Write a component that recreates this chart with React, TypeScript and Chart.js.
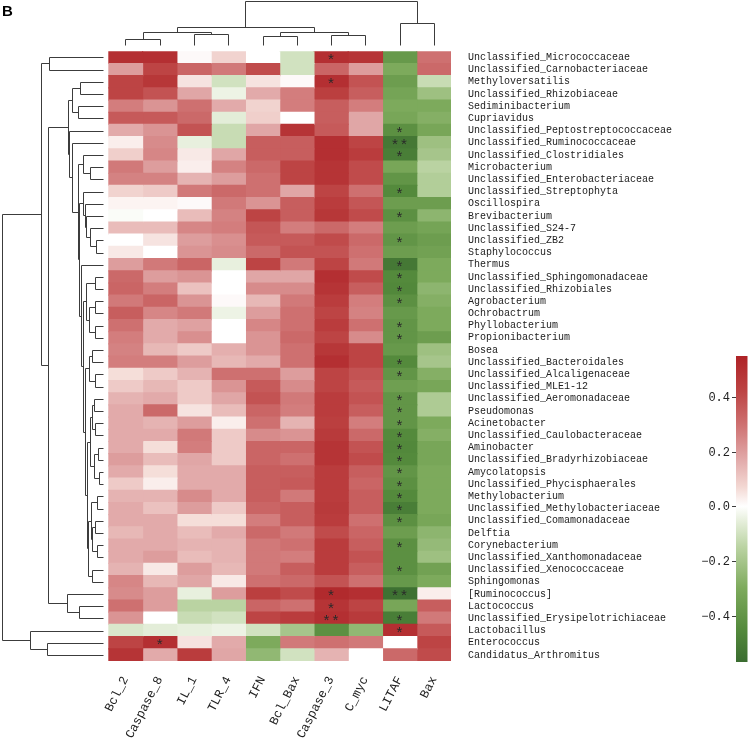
import React, { useEffect, useRef } from "react";
import { Chart, registerables } from "chart.js";

Chart.register(...registerables);

// ---------- data ----------
const ROWS = [
  "Unclassified_Micrococcaceae", "Unclassified_Carnobacteriaceae", "Methyloversatilis",
  "Unclassified_Rhizobiaceae", "Sediminibacterium", "Cupriavidus",
  "Unclassified_Peptostreptococcaceae", "Unclassified_Ruminococcaceae", "Unclassified_Clostridiales",
  "Microbacterium", "Unclassified_Enterobacteriaceae", "Unclassified_Streptophyta",
  "Oscillospira", "Brevibacterium", "Unclassified_S24-7", "Unclassified_ZB2", "Staphylococcus",
  "Thermus", "Unclassified_Sphingomonadaceae", "Unclassified_Rhizobiales", "Agrobacterium",
  "Ochrobactrum", "Phyllobacterium", "Propionibacterium", "Bosea", "Unclassified_Bacteroidales",
  "Unclassified_Alcaligenaceae", "Unclassified_MLE1-12", "Unclassified_Aeromonadaceae",
  "Pseudomonas", "Acinetobacter", "Unclassified_Caulobacteraceae", "Aminobacter",
  "Unclassified_Bradyrhizobiaceae", "Amycolatopsis", "Unclassified_Phycisphaerales",
  "Methylobacterium", "Unclassified_Methylobacteriaceae", "Unclassified_Comamonadaceae",
  "Delftia", "Corynebacterium", "Unclassified_Xanthomonadaceae", "Unclassified_Xenococcaceae",
  "Sphingomonas", "[Ruminococcus]", "Lactococcus", "Unclassified_Erysipelotrichiaceae",
  "Lactobacillus", "Enterococcus", "Candidatus_Arthromitus",
];

const COLS = ["Bcl_2", "Caspase_8", "IL_1", "TLR_4", "IFN", "Bcl_Bax", "Caspase_3", "C_myc", "LITAF", "Bax"];

const BCL_2 = [0.5, 0.2, 0.42, 0.42, 0.27, 0.36, 0.17, 0.03, 0.09, 0.28,
  0.26, 0.08, 0.02, -0.01, 0.13, 0.0, 0.04, 0.2, 0.32, 0.33,
  0.28, 0.35, 0.3, 0.27, 0.26, 0.27, 0.06, 0.1, 0.15, 0.17,
  0.17, 0.17, 0.17, 0.2, 0.17, 0.1, 0.15, 0.17, 0.17, 0.14,
  0.17, 0.17, 0.15, 0.25, 0.24, 0.3, 0.22, -0.08, 0.42, 0.48];
const CASPASE_8 = [0.5, 0.42, 0.47, 0.38, 0.22, 0.36, 0.22, 0.24, 0.25, 0.2,
  0.26, 0.1, 0.02, 0.0, 0.13, 0.05, 0.0, 0.28, 0.2, 0.27,
  0.33, 0.25, 0.17, 0.17, 0.14, 0.27, 0.1, 0.14, 0.17, 0.32,
  0.15, 0.17, 0.06, 0.13, 0.06, 0.03, 0.15, 0.12, 0.17, 0.17,
  0.17, 0.2, 0.04, 0.14, 0.2, 0.2, 0.0, -0.06, 0.5, 0.17];
const IL_1 = [0.01, 0.33, 0.05, 0.18, 0.3, 0.32, 0.38, -0.05, 0.04, 0.03,
  0.15, 0.28, 0.01, 0.13, 0.25, 0.2, 0.22, 0.33, 0.22, 0.12,
  0.22, 0.28, 0.19, 0.23, 0.1, 0.2, 0.15, 0.1, 0.1, 0.05,
  0.2, 0.28, 0.27, 0.18, 0.17, 0.17, 0.24, 0.2, 0.06, 0.13,
  0.15, 0.13, 0.2, 0.18, -0.05, -0.15, -0.12, -0.05, 0.05, 0.45];
const TLR_4 = [0.08, 0.28, -0.1, -0.04, 0.17, -0.06, -0.12, -0.12, 0.18, 0.26,
  0.2, 0.32, 0.28, 0.26, 0.27, 0.23, 0.24, -0.05, 0.0, 0.0,
  0.01, -0.04, 0.0, 0.0, 0.16, 0.14, 0.3, 0.22, 0.18, 0.13,
  0.03, 0.1, 0.1, 0.1, 0.17, 0.17, 0.17, 0.1, 0.06, 0.17,
  0.15, 0.15, 0.14, 0.04, 0.2, -0.15, -0.1, -0.04, 0.17, 0.18];
const IFN = [0.0, 0.4, 0.05, 0.17, 0.08, 0.09, 0.18, 0.35, 0.35, 0.32,
  0.3, 0.3, 0.22, 0.42, 0.37, 0.36, 0.32, 0.42, 0.18, 0.24,
  0.14, 0.2, 0.25, 0.22, 0.22, 0.17, 0.3, 0.36, 0.38, 0.33,
  0.3, 0.24, 0.33, 0.33, 0.35, 0.35, 0.35, 0.33, 0.27, 0.32,
  0.28, 0.28, 0.28, 0.3, 0.44, 0.33, 0.42, -0.1, -0.3, -0.25];
const BCL_BAX = [-0.1, -0.1, 0.01, 0.27, 0.27, 0.0, 0.48, 0.35, 0.35, 0.42,
  0.42, 0.18, 0.35, 0.35, 0.27, 0.36, 0.38, 0.28, 0.18, 0.24,
  0.28, 0.3, 0.3, 0.32, 0.3, 0.3, 0.2, 0.24, 0.28, 0.27,
  0.15, 0.22, 0.33, 0.3, 0.35, 0.36, 0.28, 0.35, 0.35, 0.28,
  0.3, 0.27, 0.35, 0.32, 0.4, 0.3, 0.45, -0.2, 0.28, -0.1];
const CASPASE_3 = [0.5, 0.33, 0.5, 0.44, 0.35, 0.35, 0.36, 0.5, 0.5, 0.48,
  0.48, 0.42, 0.45, 0.47, 0.32, 0.4, 0.38, 0.42, 0.5, 0.48,
  0.45, 0.42, 0.45, 0.42, 0.47, 0.5, 0.42, 0.42, 0.45, 0.45,
  0.44, 0.46, 0.48, 0.48, 0.45, 0.45, 0.45, 0.46, 0.45, 0.4,
  0.45, 0.45, 0.45, 0.38, 0.52, 0.48, 0.5, -0.42, 0.3, 0.15];
const C_MYC = [0.48, 0.2, 0.38, 0.35, 0.27, 0.18, 0.18, 0.42, 0.45, 0.4,
  0.4, 0.3, 0.37, 0.4, 0.27, 0.32, 0.3, 0.28, 0.4, 0.35,
  0.27, 0.26, 0.3, 0.24, 0.42, 0.42, 0.38, 0.36, 0.38, 0.35,
  0.27, 0.32, 0.38, 0.4, 0.35, 0.33, 0.35, 0.35, 0.3, 0.33,
  0.35, 0.38, 0.35, 0.3, 0.5, 0.42, 0.46, -0.25, 0.28, 0.0];
const LITAF = [-0.38, -0.3, -0.36, -0.33, -0.3, -0.32, -0.42, -0.52, -0.5, -0.32,
  -0.4, -0.45, -0.36, -0.42, -0.36, -0.4, -0.36, -0.52, -0.45, -0.46,
  -0.42, -0.38, -0.4, -0.4, -0.38, -0.45, -0.4, -0.35, -0.4, -0.4,
  -0.4, -0.45, -0.46, -0.45, -0.4, -0.42, -0.45, -0.5, -0.42, -0.36,
  -0.42, -0.42, -0.42, -0.38, -0.55, -0.32, -0.5, 0.5, 0.0, 0.32];
const BAX = [0.3, 0.32, -0.12, -0.22, -0.3, -0.28, -0.32, -0.22, -0.2, -0.15,
  -0.17, -0.17, -0.36, -0.26, -0.33, -0.36, -0.34, -0.3, -0.3, -0.26,
  -0.28, -0.3, -0.3, -0.36, -0.22, -0.2, -0.28, -0.32, -0.18, -0.18,
  -0.3, -0.28, -0.32, -0.32, -0.3, -0.3, -0.3, -0.3, -0.32, -0.26,
  -0.24, -0.22, -0.34, -0.3, 0.03, 0.35, 0.28, 0.36, 0.42, 0.4];

const COLUMN_VALUES = [BCL_2, CASPASE_8, IL_1, TLR_4, IFN, BCL_BAX, CASPASE_3, C_MYC, LITAF, BAX];

// [row, column, mark]
const STARS: [number, number, string][] = [
  [0, 6, "*"], [2, 6, "*"], [6, 8, "*"], [7, 8, "**"], [8, 8, "*"], [11, 8, "*"], [13, 8, "*"],
  [15, 8, "*"], [17, 8, "*"], [18, 8, "*"], [19, 8, "*"], [20, 8, "*"], [22, 8, "*"], [23, 8, "*"],
  [25, 8, "*"], [26, 8, "*"], [28, 8, "*"], [29, 8, "*"], [30, 8, "*"], [31, 8, "*"], [32, 8, "*"],
  [33, 8, "*"], [34, 8, "*"], [35, 8, "*"], [36, 8, "*"], [37, 8, "*"], [38, 8, "*"], [40, 8, "*"],
  [42, 8, "*"], [44, 6, "*"], [44, 8, "**"], [45, 6, "*"], [46, 6, "**"], [46, 8, "*"], [47, 8, "*"],
  [48, 1, "*"],
];

const COLORBAR_TICKS = [0.4, 0.2, 0.0, -0.2, -0.4];
const VMIN = -0.57;
const VMAX = 0.55;
const COLOR_STOPS: [number, number[]][] = [
  [-0.57, [58, 108, 48]],
  [-0.45, [84, 138, 60]],
  [-0.3, [125, 170, 92]],
  [-0.15, [186, 211, 162]],
  [-0.05, [232, 240, 222]],
  [0.0, [255, 255, 255]],
  [0.07, [243, 216, 211]],
  [0.17, [226, 170, 170]],
  [0.3, [206, 112, 112]],
  [0.42, [189, 68, 68]],
  [0.55, [174, 34, 38]],
];

// dendrograms: [height, left, right]; leaves are indices
const T_TOP = [0.345, [0.311, [0.228, 2, 3], [0.248, 4, 5]],
  [0.335, 6, [0.31, 7, [0.248,
    [0.196, 8, [0.129, 9, 10]],
    [0.238,
      [0.196, 11, [0.179, 12, [0.169, 13, [0.136, 14, [0.07, 15, 16]]]]],
      [0.221, 17, [0.199,
        [0.169, [0.084, 18, 19], [0.139, [0.086, 20, 21], [0.079, 22, 23]]],
        [0.179,
          [0.139, [0.112, 24, 25], [0.079, 26, 27]],
          [0.159,
            [0.134, [0.109, [0.096, 28, 29], [0.079, 30, 31]], [0.089, [0.053, 32, 33], [0.047, 34, 35]]],
            [0.149, [0.124, [0.063, 36, 37], [0.112, [0.079, 38, 39], [0.063, 40, 41]]], [0.112, 42, 43]]]]]]]]]]];
const T_LOWER = [0.36, 44, [0.238, 45, 46]];
const T_BOTTOM = [0.725, 47, [0.56, 48, 49]];
const ROW_TREE = [1.0, [0.619, [0.533, 0, 1], [0.543, T_TOP, T_LOWER]], T_BOTTOM];
const COL_TREE = [1.0, [0.418, [0.305, [0.152, 0, 1], [0.25, 2, 3]], [0.311, [0.22, 4, 5], [0.243, 6, 7]]], [0.493, 8, 9]];

// ---------- helpers ----------
const MONO = "'Liberation Mono', 'DejaVu Sans Mono', monospace";

function valueToRgb(v: number): number[] {
  if (v <= COLOR_STOPS[0][0]) return COLOR_STOPS[0][1];
  for (let i = 1; i < COLOR_STOPS.length; i++) {
    const [v1, c1] = COLOR_STOPS[i];
    if (v <= v1) {
      const [v0, c0] = COLOR_STOPS[i - 1];
      const t = (v - v0) / (v1 - v0);
      return c0.map((c, k) => Math.round(c + (c1[k] - c) * t));
    }
  }
  return COLOR_STOPS[COLOR_STOPS.length - 1][1];
}
const valueToColor = (v: number) => {
  const c = valueToRgb(v);
  return `rgb(${c[0]},${c[1]},${c[2]})`;
};

function drawTree(ctx: CanvasRenderingContext2D, node: any, leafPos: (i: number) => number,
  hToPix: (h: number) => number, vertical: boolean): { pos: number; h: number } {
  if (typeof node === "number") return { pos: leafPos(node), h: 0 };
  const a = drawTree(ctx, node[1], leafPos, hToPix, vertical);
  const b = drawTree(ctx, node[2], leafPos, hToPix, vertical);
  const p = Math.round(hToPix(node[0])) + 0.5;
  const pa = Math.round(hToPix(a.h)) + 0.5;
  const pb = Math.round(hToPix(b.h)) + 0.5;
  const ya = Math.round(a.pos) + 0.5;
  const yb = Math.round(b.pos) + 0.5;
  ctx.beginPath();
  if (!vertical) {
    ctx.moveTo(pa, ya); ctx.lineTo(p, ya);
    ctx.moveTo(pb, yb); ctx.lineTo(p, yb);
    ctx.moveTo(p, ya); ctx.lineTo(p, yb);
  } else {
    ctx.moveTo(ya, pa); ctx.lineTo(ya, p);
    ctx.moveTo(yb, pb); ctx.lineTo(yb, p);
    ctx.moveTo(ya, p); ctx.lineTo(yb, p);
  }
  ctx.stroke();
  return { pos: (a.pos + b.pos) / 2, h: node[0] };
}

const decorPlugin = {
  id: "decor",
  afterDatasetsDraw(chart: any) {
    const ctx: CanvasRenderingContext2D = chart.ctx;
    const xs = chart.scales.x;
    const ys = chart.scales.y;
    ctx.save();
    ctx.fillStyle = "#2a2a2a";
    ctx.font = `15px ${MONO}`;
    ctx.textAlign = "center";
    ctx.textBaseline = "middle";
    STARS.forEach(([r, c, m]) => {
      ctx.fillText(m, xs.getPixelForValue(c + 0.5), ys.getPixelForValue(r) + 3.5);
    });
    ctx.restore();
  },
  afterDraw(chart: any) {
    const ctx: CanvasRenderingContext2D = chart.ctx;
    const area = chart.chartArea;
    const xs = chart.scales.x;
    const ys = chart.scales.y;
    ctx.save();
    ctx.strokeStyle = "#3c3c3c";
    ctx.lineWidth = 1;

    // left dendrogram
    const leafEnd = area.left - 5;
    const rootX = 2;
    drawTree(ctx, ROW_TREE, (i) => ys.getPixelForValue(i), (h) => leafEnd - h * (leafEnd - rootX), false);

    // top dendrogram
    const leafBottom = area.top - 6;
    const rootY = 1;
    drawTree(ctx, COL_TREE, (j) => xs.getPixelForValue(j + 0.5), (h) => leafBottom - h * (leafBottom - rootY), true);

    // colorbar
    const cbX = 736, cbW = 11.5, cbTop = 356, cbBot = 662;
    const vToY = (v: number) => cbTop + ((VMAX - v) / (VMAX - VMIN)) * (cbBot - cbTop);
    const grad = ctx.createLinearGradient(0, cbTop, 0, cbBot);
    COLOR_STOPS.forEach(([v]) => {
      grad.addColorStop((VMAX - v) / (VMAX - VMIN), valueToColor(v));
    });
    ctx.fillStyle = grad;
    ctx.fillRect(cbX, cbTop, cbW, cbBot - cbTop);
    ctx.fillStyle = "#222";
    ctx.font = `12px ${MONO}`;
    ctx.textAlign = "right";
    ctx.textBaseline = "middle";
    COLORBAR_TICKS.forEach((t) => {
      const y = Math.round(vToY(t)) + 0.5;
      ctx.beginPath();
      ctx.moveTo(cbX - 4, y);
      ctx.lineTo(cbX, y);
      ctx.stroke();
      const label = (t < 0 ? "\u2212" : "") + Math.abs(t).toFixed(1);
      ctx.fillText(label, cbX - 6, y);
    });

    // panel letter
    ctx.fillStyle = "#000";
    ctx.font = "bold 15px 'Liberation Sans', Arial, sans-serif";
    ctx.textAlign = "left";
    ctx.textBaseline = "top";
    ctx.fillText("B", 2, 4);
    ctx.restore();
  },
};

export default function App() {
  const canvasRef = useRef<HTMLCanvasElement | null>(null);

  useEffect(() => {
    const canvas = canvasRef.current;
    if (!canvas) return;
    const chart = new Chart(canvas, {
      type: "bar",
      data: {
        labels: ROWS,
        datasets: COLUMN_VALUES.map((vals, j) => ({
          label: COLS[j],
          data: ROWS.map(() => 1),
          backgroundColor: vals.map(valueToColor),
          borderWidth: 0,
          barPercentage: 1,
          categoryPercentage: 1,
          inflateAmount: 0.6,
        })),
      },
      options: {
        indexAxis: "y",
        responsive: false,
        animation: false,
        events: [],
        layout: { padding: { left: 108.3, top: 51.3, right: 0, bottom: 0 } },
        plugins: {
          legend: { display: false },
          tooltip: { enabled: false },
          title: { display: false },
        },
        scales: {
          x: {
            type: "linear",
            stacked: true,
            min: 0,
            max: 10,
            position: "bottom",
            grid: { display: false, drawTicks: false },
            border: { display: false },
            afterBuildTicks: (s: any) => {
              s.ticks = COLS.map((_, i) => ({ value: i + 0.5 }));
            },
            afterFit: (s: any) => {
              s.height = 82;
            },
            ticks: {
              autoSkip: false,
              minRotation: 63,
              maxRotation: 63,
              padding: 13,
              color: "#222",
              font: { family: MONO, size: 12.5 },
              callback: (v: any) => COLS[Math.floor(Number(v))],
            },
          },
          y: {
            type: "category",
            stacked: true,
            position: "right",
            grid: { display: false, drawTicks: false },
            border: { display: false },
            afterFit: (s: any) => {
              s.width = 297;
            },
            ticks: {
              autoSkip: false,
              padding: 17,
              color: "#222",
              font: { family: MONO, size: 10 },
            },
          },
        },
      } as any,
      plugins: [decorPlugin],
    });
    return () => chart.destroy();
  }, []);

  return (
    <div style={{ position: "absolute", left: 0, top: 0, width: 748, height: 743, background: "#fff" }}>
      <canvas ref={canvasRef} width={748} height={743} style={{ display: "block" }} />
    </div>
  );
}
